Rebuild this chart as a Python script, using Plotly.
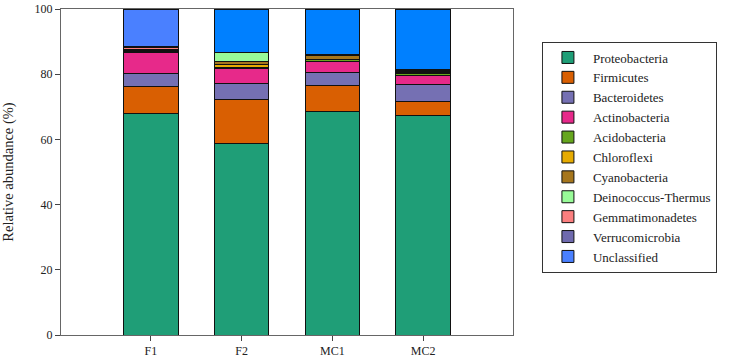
import plotly.graph_objects as go

samples = ["F1", "F2", "MC1", "MC2"]
phyla = ["Proteobacteria", "Firmicutes", "Bacteroidetes", "Actinobacteria", "Acidobacteria",
         "Chloroflexi", "Cyanobacteria", "Deinococcus-Thermus", "Gemmatimonadetes",
         "Verrucomicrobia", "Unclassified"]

proteobacteria = [68.0, 58.6, 68.5, 67.2]
firmicutes = [8.2, 13.5, 8.1, 4.5]
bacteroidetes = [4.0, 5.2, 4.0, 5.1]
actinobacteria = [6.5, 4.5, 3.4, 2.8]
acidobacteria = [0.4, 0.4, 0.5, 0.7]
chloroflexi = [0.2, 0.8, 0.1, 0.2]
cyanobacteria = [0.2, 1.0, 1.2, 0.4]
deinococcus = [0.1, 2.6, 0.1, 0.1]
gemmatimonadetes = [0.7, 0.1, 0.1, 0.1]
verrucomicrobia = [0.2, 0.1, 0.1, 0.2]
unclassified = [11.5, 13.2, 13.9, 18.7]

values = [proteobacteria, firmicutes, bacteroidetes, actinobacteria, acidobacteria,
          chloroflexi, cyanobacteria, deinococcus, gemmatimonadetes, verrucomicrobia,
          unclassified]
colors = ["#1f9e77", "#d95f02", "#7570b3", "#e7298a", "#66a61e", "#e6ab02", "#a6761d",
          "#98fb98", "#fb7f7f", "#6f6aae", ["#4a80ff", "#0080ff", "#0080ff", "#0080ff"]]

fig = go.Figure()
for name, vals, col in zip(phyla, values, colors):
    fig.add_trace(go.Bar(x=samples, y=vals, name=name, width=0.6,
                         marker=dict(color=col, line=dict(color="#111111", width=1))))

font = "Liberation Serif"
fig.update_layout(
    barmode="stack",
    width=743, height=363,
    margin=dict(l=61, r=230, t=9, b=28, autoexpand=False),
    plot_bgcolor="white", paper_bgcolor="white",
    font=dict(family=font, size=12, color="#222222"),
    legend=dict(x=1.064, y=0.546, xanchor="left", yanchor="middle", traceorder="normal",
                bordercolor="#333333", borderwidth=1, font=dict(family=font, size=13),
                tracegroupgap=0, itemwidth=40),
    xaxis=dict(range=[-0.99, 3.99], showline=True, linecolor="#666666", linewidth=1,
               mirror=True, ticks="outside", ticklen=5, tickcolor="#444444",
               showgrid=False, automargin=False),
    yaxis=dict(range=[0, 100], tickvals=[0, 20, 40, 60, 80, 100], showline=True,
               linecolor="#666666", linewidth=1, mirror=True, ticks="outside", ticklen=5,
               tickcolor="#444444", showgrid=False, zeroline=False, automargin=False,
               title=dict(text="Relative abundance (%)", font=dict(family=font, size=14.5),
                          standoff=21)),
)
fig.write_html("out.html", config={"displayModeBar": False},
               post_script="document.body.style.margin='0';")
